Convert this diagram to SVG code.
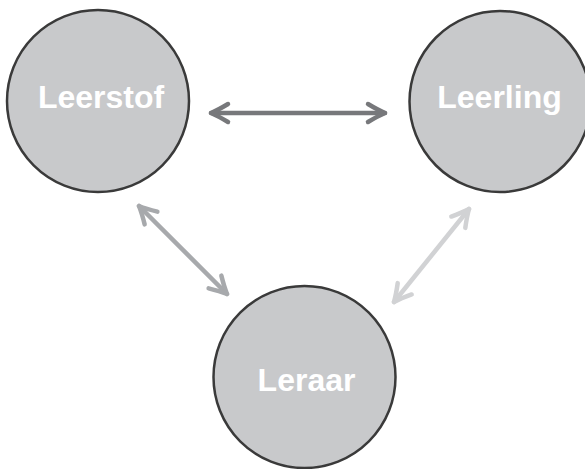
<svg xmlns="http://www.w3.org/2000/svg" xmlns:xlink="http://www.w3.org/1999/xlink" width="585" height="469" viewBox="0 0 585 469">
<style>
.node circle{fill:#c8c9cb;stroke:#3a3a3a;stroke-width:2.5}
.node text{font-family:"Liberation Sans","Noto Sans",sans-serif;font-weight:bold;font-size:32px;fill:#ffffff;text-anchor:middle}
.conn{fill:none;stroke-linecap:round;stroke-linejoin:round}
.c1{stroke:#77787b;stroke-width:4.5}
.c2{stroke:#a7a9ac;stroke-width:4.5}
.c3{stroke:#d1d2d4;stroke-width:4.5}
</style>
<defs>
<path id="chev" d="M -17 -9 Q -7 -3 0 0 Q -7 3 -17 9"/>
</defs>
<rect width="585" height="469" fill="#ffffff"/>
<g id="connectors">
<g class="conn c1">
<line x1="211" y1="113" x2="385" y2="113"/>
<use xlink:href="#chev" transform="translate(385,113)"/>
<use xlink:href="#chev" transform="translate(211,113) rotate(180)"/>
</g>
<g class="conn c2">
<line x1="139" y1="206" x2="227" y2="294"/>
<use xlink:href="#chev" transform="translate(227,294) rotate(45)"/>
<use xlink:href="#chev" transform="translate(139,206) rotate(225)"/>
</g>
<g class="conn c3">
<line x1="469" y1="209" x2="394" y2="302"/>
<use xlink:href="#chev" transform="translate(394,302) rotate(129)"/>
<use xlink:href="#chev" transform="translate(469,209) rotate(-51)"/>
</g>
</g>
<g id="leerstof" class="node">
<circle cx="98" cy="101" r="91"/>
<text x="101" y="108">Leerstof</text>
</g>
<g id="leerling" class="node">
<circle cx="500" cy="101.5" r="90.5"/>
<text x="499.5" y="108">Leerling</text>
</g>
<g id="leraar" class="node">
<circle cx="304.5" cy="377" r="91"/>
<text x="306.5" y="391">Leraar</text>
</g>
</svg>
